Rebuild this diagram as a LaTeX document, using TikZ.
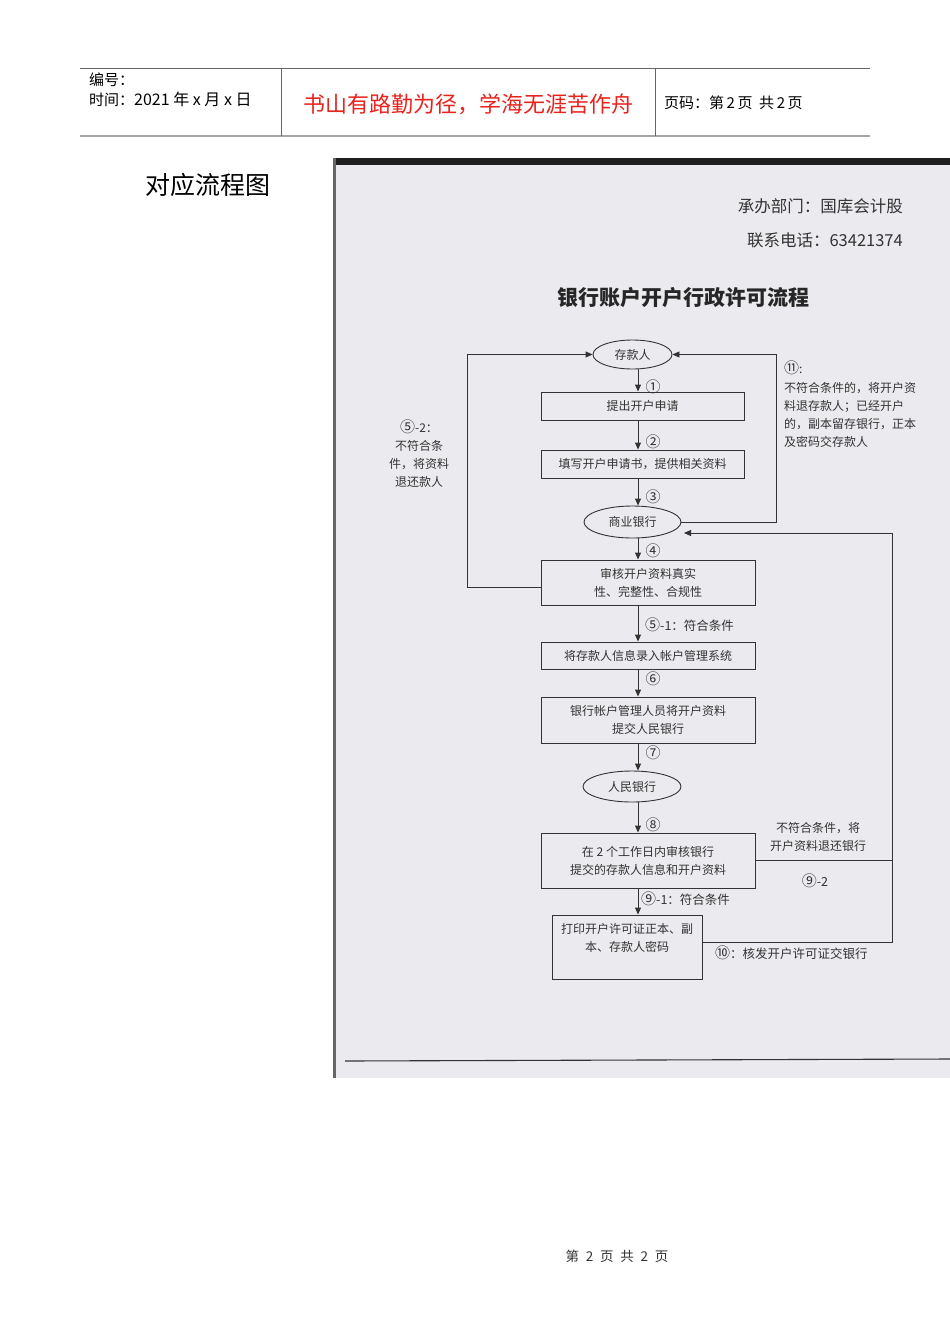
\documentclass[tikz,border=0pt]{standalone}
\usepackage{fontspec}
\setmainfont{Noto Sans CJK SC}
\usetikzlibrary{arrows.meta,calc,shapes.geometric}
\definecolor{scanbg}{HTML}{EBEBEF}
\definecolor{ink}{HTML}{333333}
\definecolor{hdrred}{HTML}{E8231E}
\newcommand{\circno}[1]{{\fontsize{15}{15}\selectfont #1}}
\tikzset{
  flowbox/.style={draw=ink, line width=0.9pt, rectangle, inner sep=0pt, align=center, text=ink, font=\fontsize{12}{18}\selectfont},
  flowell/.style={draw=ink, line width=0.9pt, ellipse, inner sep=0pt, text=ink, font=\fontsize{12}{14}\selectfont},
  conn/.style={draw=ink, line width=0.9pt},
  arr/.style={conn, -{Triangle[length=7pt,width=6pt]}},
  stepno/.style={text=ink, font=\fontsize{12.5}{14}\selectfont, inner sep=0pt},
  note/.style={text=ink, font=\fontsize{12}{18}\selectfont, inner sep=0pt, align=left},
  hdr/.style={text=black, font=\fontsize{15}{19}\selectfont, inner sep=0pt, anchor=west}
}
\begin{document}
\begin{tikzpicture}[x=1pt,y=-1pt]
\useasboundingbox (0,0) rectangle (950,1344);
\fill[white] (0,0) rectangle (950,1344);

% ---------- header ----------
\draw[gray!80!black, line width=0.9pt] (80,68) -- (870,68);
\draw[gray!70, line width=1.6pt] (80,136) -- (870,136);
\draw[gray!80!black, line width=0.9pt] (281,68) -- (281,136);
\draw[gray!80!black, line width=0.9pt] (655,68) -- (655,136);
\node[hdr] (bh) at (89,80) {编号：};
\node[hdr] (sj) at (89,99) {时间：\fontsize{16}{19}\selectfont 2021\ 年\ x\ 月\ x\ 日};
\node[text=hdrred, font=\fontsize{22}{24}\selectfont, inner sep=0pt] (motto) at (468,104) {书山有路勤为径，学海无涯苦作舟};
\node[hdr] (ym) at (664,103) {页码：第\,2\,页\ \ 共\,2\,页};

\node[font=\fontsize{25}{27}\selectfont, inner sep=0pt, anchor=west] (dy) at (145,185) {对应流程图};

% ---------- scanned sheet ----------
\fill[scanbg] (333,158) rectangle (950,1078);
\fill[black!88] (333,158) rectangle (950,165);
\fill[black!60] (333,158) rectangle (336,1078);
\draw[ink, line width=1.1pt] (345,1061) -- (950,1059);

\node[text=ink, font=\fontsize{16.5}{18}\selectfont, inner sep=0pt, anchor=east] (dept) at (903,206) {承办部门：国库会计股};
\node[text=ink, font=\fontsize{16.5}{18}\selectfont, inner sep=0pt, anchor=east] (tel) at (903,240) {联系电话：63421374};
\node[text=black!85, font=\bfseries\fontsize{21}{22}\selectfont, inner sep=0pt] (title) at (683,298) {银行账户开户行政许可流程};

% ---------- flow nodes ----------
\node[flowell, minimum width=79pt, minimum height=29pt] (e1) at (632.5,354.5) {存款人};
\node[flowbox, minimum width=203pt, minimum height=28pt] (b1) at (642.5,406) {提出开户申请};
\node[flowbox, minimum width=203pt, minimum height=28pt] (b2) at (642.5,464) {填写开户申请书，提供相关资料};
\node[flowell, minimum width=97pt, minimum height=32pt] (e2) at (632.5,522) {商业银行};
\node[flowbox, minimum width=214pt, minimum height=45pt] (b3) at (648,582.5) {审核开户资料真实\\性、完整性、合规性};
\node[flowbox, minimum width=214pt, minimum height=27pt] (b4) at (648,655.5) {将存款人信息录入帐户管理系统};
\node[flowbox, minimum width=214pt, minimum height=46pt] (b5) at (648,720) {银行帐户管理人员将开户资料\\提交人民银行};
\node[flowell, minimum width=98pt, minimum height=31pt] (e3) at (632,786.5) {人民银行};
\node[flowbox, minimum width=214pt, minimum height=55pt] (b6) at (648,860.5) {在 2 个工作日内审核银行\\提交的存款人信息和开户资料};
\node[flowbox, minimum width=150pt, minimum height=64pt] (b7) at (627,947) {};
\node[note, align=center] (b7t) at (627,938) {打印开户许可证正本、副\\本、存款人密码};

% ---------- vertical arrows ----------
\coordinate (vx) at (638,0);
\draw[arr] ([xshift=5.5pt]e1.south) -- (vx |- b1.north);
\draw[arr] (vx |- b1.south) -- (vx |- b2.north);
\draw[arr] (vx |- b2.south) -- ([xshift=5.5pt]e2.north);
\draw[arr] ([xshift=5.5pt]e2.south) -- (vx |- b3.north);
\draw[arr] (vx |- b3.south) -- (vx |- b4.north);
\draw[arr] (vx |- b4.south) -- (vx |- b5.north);
\draw[arr] (vx |- b5.south) -- ([xshift=6pt]e3.north);
\draw[arr] ([xshift=6pt]e3.south) -- (vx |- b6.north);
\draw[arr] (vx |- b6.south) -- (vx |- b7.north);

\node[stepno] (s1) at (653,387) {\circno{①}};
\node[stepno] (s2) at (653,442) {\circno{②}};
\node[stepno] (s3) at (653,497) {\circno{③}};
\node[stepno] (s4) at (653,551) {\circno{④}};
\node[stepno, anchor=west] (s51) at (645,625) {\circno{⑤}-1：符合条件};
\node[stepno] (s6) at (653,679) {\circno{⑥}};
\node[stepno] (s7) at (653,753) {\circno{⑦}};
\node[stepno] (s8) at (653,825) {\circno{⑧}};
\node[stepno, anchor=west] (s91) at (641,899) {\circno{⑨}-1：符合条件};

% ---------- loops ----------
\coordinate (lx) at (467,0);
\draw[arr] ([yshift=-4.5pt]b3.west) -| (lx |- e1.west) -- (e1.west);
\coordinate (rx) at (776,0);
\draw[arr] (e2.east) -| (rx |- e1.east) -- (e1.east);
\coordinate (rv) at (892,0);
\coordinate (sbin) at (684,533);
\draw[arr] ([yshift=5pt]b7.east) -| (rv |- sbin) -- (sbin);
\draw[conn] (b6.east) -- (b6.east -| rv);

% ---------- annotations ----------
\node[note, align=center] (n52) at (419,454) {\circno{⑤}-2：\\不符合条\\件，将资料\\退还款人};
\node[note, anchor=north west] (n11a) at (784,361) {\circno{⑪}:};
\node[note, anchor=north west] (n11) at (784,382) {不符合条件的，将开户资\\料退存款人；已经开户\\的，副本留存银行，正本\\及密码交存款人};
\node[note, align=center] (n92t) at (818,836.5) {不符合条件，将\\开户资料退还银行};
\node[stepno] (n92) at (815,881) {\circno{⑨}-2};
\node[stepno, anchor=west] (n10) at (715,953) {\circno{⑩}：核发开户许可证交银行};

% ---------- footer ----------
\node[font=\fontsize{13.5}{15}\selectfont, inner sep=0pt, text=black!80] (ft) at (617,1256) {第\enspace 2\enspace 页\enspace 共\enspace 2\enspace 页};
\end{tikzpicture}
\end{document}
